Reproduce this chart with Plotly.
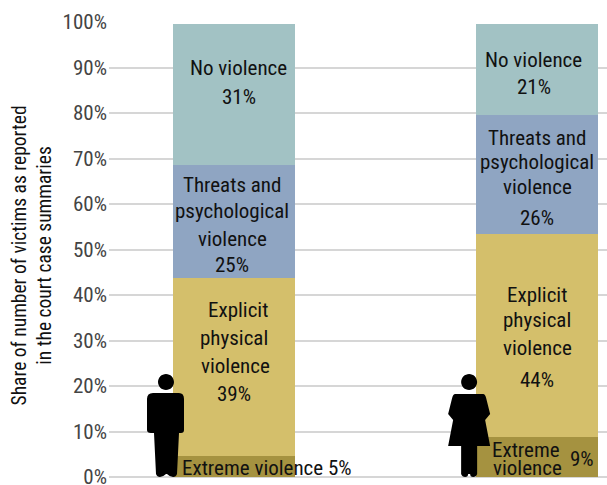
import plotly.graph_objects as go

FONT = "Roboto Condensed, Liberation Sans Narrow, Roboto, sans-serif"
W, H = 607, 495
L, R, T, B = 109, 0, 22, 17.5

groups = ["Men", "Women"]
series = ["Extreme violence", "Explicit physical violence",
          "Threats and psychological violence", "No violence"]
extreme = [4.7, 8.9]
explicit = [39.1, 44.4]
threats = [24.8, 26.3]
none_ = [31.0, 20.0]
colors = ["#a59240", "#d4bf6b", "#8fa5c2", "#a2c2c4"]
tick_vals = list(range(0, 101, 10))
tick_text = [f"{v}%" for v in tick_vals]

labels_men = [
    ("No violence", 0.016, 89.9), ("31%", 0.016, 83.5),
    ("Threats and", -0.005, 64.2), ("psychological", -0.005, 58.5), ("violence", -0.005, 52.4), ("25%", -0.005, 46.7),
    ("Explicit", 0.012, 36.8), ("physical", 0.0, 30.6), ("violence", 0.006, 24.5), ("39%", 0.0, 18.3),
    ("Extreme violence 5%", 0.108, 1.9),
]
labels_women = [
    ("No violence", 0.99, 91.7), ("21%", 0.99, 85.7),
    ("Threats and", 1.0, 74.5), ("psychological", 1.0, 69.2), ("violence", 1.0, 63.8), ("26%", 1.0, 57.0),
    ("Explicit", 1.0, 40.0), ("physical", 1.0, 34.4), ("violence", 1.0, 28.4), ("44%", 1.0, 21.4),
    ("Extreme", 0.963, 6.0), ("violence", 0.97, 1.9), ("9%", 1.15, 3.9),
]

# icon outlines in pixels above the baseline (y grows upward in pixel size mode)
HEAD = ("M -8 95 C -8 99.4 -4.4 103 0 103 C 4.4 103 8 99.4 8 95 "
        "C 8 90.6 4.4 87 0 87 C -4.4 87 -8 90.6 -8 95 Z ")
man_path = (HEAD +
            "M -13 84 L 13 84 Q 18 84 18 78 L 18 47 Q 18 44 15 44 L 13 44 "
            "L 11 3 Q 10 0 7 0 Q 4 0 1 3 L 0 3 Q -3 0 -6 0 Q -9 0 -10 3 L -12 44 "
            "L -15 44 Q -19 44 -19 47 L -19 78 Q -19 84 -13 84 Z")
woman_path = (HEAD +
              "M -14 83 L 14 83 Q 16 83 17 79 L 21 63 L 16 57 L 21 31 L 8 31 "
              "L 8 3 Q 7 0 4 0 Q 1 0 1 3 L -1 3 Q -1 0 -4 0 Q -7 0 -8 3 L -8 31 "
              "L -21 31 L -16 57 L -21 63 L -17 79 Q -16 83 -14 83 Z")
icon_x = [-0.2244, 0.776]

fig = go.Figure()
for name, vals, col in zip(series, [extreme, explicit, threats, none_], colors):
    fig.add_trace(go.Bar(x=groups, y=vals, name=name, width=0.4026,
                         marker=dict(color=col, line=dict(width=0)),
                         hoverinfo="skip"))

anns = [dict(x=x, y=y, xref="x", yref="y", text=t, showarrow=False,
             font=dict(size=21, color="#111", family=FONT),
             xanchor="center", yanchor="middle")
        for t, x, y in labels_men + labels_women]
anns.append(dict(x=(32 - L) / (W - L - R), y=0.487, xref="paper", yref="paper",
                 xanchor="center", yanchor="middle",
                 text="Share of number of victims as reported<br>in the court case summaries",
                 textangle=-90, showarrow=False,
                 font=dict(size=19.5, color="#111", family=FONT)))

shapes = [dict(type="path", path=p, xref="x", yref="y", xsizemode="pixel", ysizemode="pixel",
               xanchor=x, yanchor=0, fillcolor="#000", line=dict(width=0), layer="above")
          for p, x in zip([man_path, woman_path], icon_x)]

fig.update_layout(
    width=W, height=H, barmode="stack", showlegend=False,
    margin=dict(l=L, r=R, t=T, b=B, pad=0),
    paper_bgcolor="white", plot_bgcolor="white",
    font=dict(family=FONT, size=21, color="#444"),
    xaxis=dict(type="category", range=[-0.4125, 1.231], showticklabels=False,
               showgrid=False, zeroline=False, ticks=""),
    yaxis=dict(range=[0, 100], tickvals=tick_vals, ticktext=tick_text,
               showgrid=True, gridcolor="#d6d6d6", gridwidth=2,
               zeroline=True, zerolinecolor="#d6d6d6", zerolinewidth=2,
               ticks="", ticklabelstandoff=1, showline=False, ticklabeloverflow="allow"),
    annotations=anns, shapes=shapes,
)
fig.write_html("out.html", config={"displayModeBar": False},
               post_script="document.body.style.margin='0';document.documentElement.style.overflow='hidden';")
